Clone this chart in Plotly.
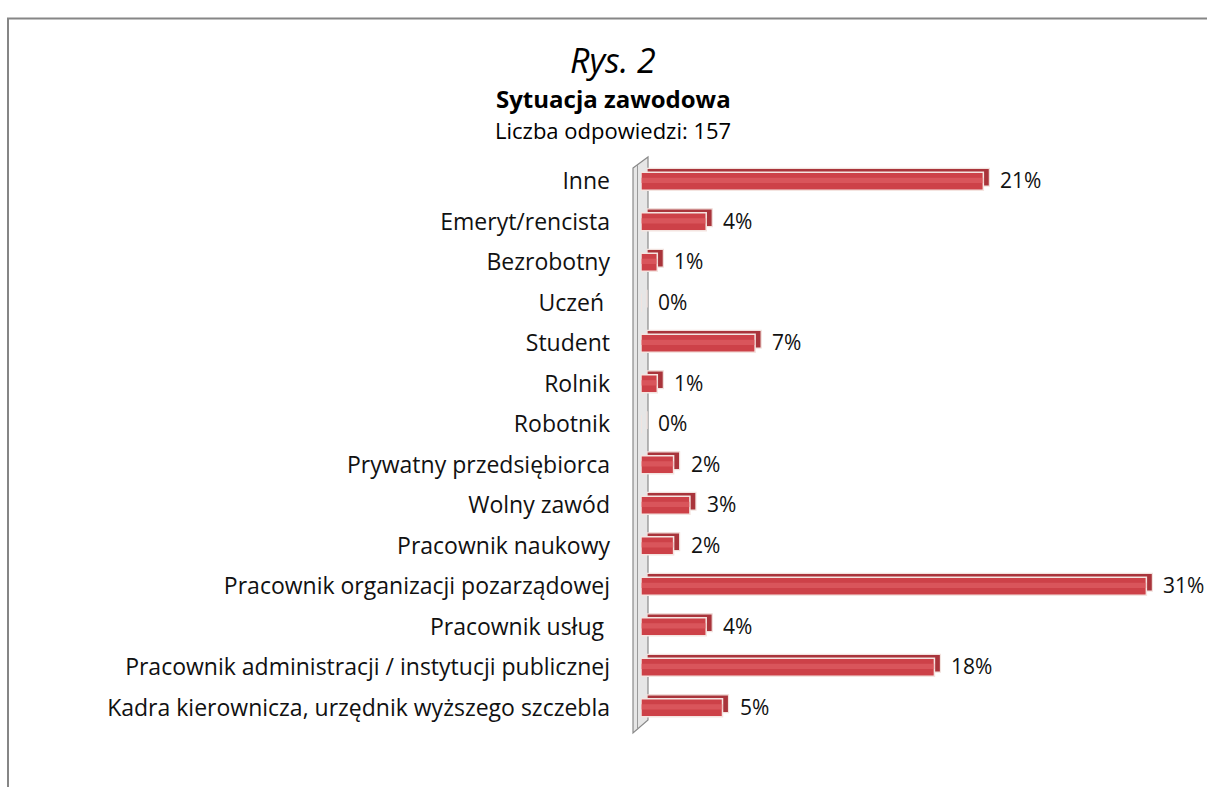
import plotly.graph_objects as go

# Survey: occupational situation of respondents (157 answers)
categories = [
    "Inne",
    "Emeryt/rencista",
    "Bezrobotny",
    "Uczeń\u00a0",
    "Student",
    "Rolnik",
    "Robotnik",
    "Prywatny przedsiębiorca",
    "Wolny zawód",
    "Pracownik naukowy",
    "Pracownik organizacji pozarządowej",
    "Pracownik usług\u00a0",
    "Pracownik administracji / instytucji publicznej",
    "Kadra kierownicza, urzędnik wyższego szczebla",
]
shares = [21, 4, 1, 0, 7, 1, 0, 2, 3, 2, 31, 4, 18, 5]
value_labels = [f"{v}%" for v in shares]

title_fig = "Rys. 2"
title_main = "Sytuacja zawodowa"
title_sub = "Liczba odpowiedzi: 157"

FONT = "Open Sans"
W, H = 1207, 787
L, R, T, B = 641, 0, 161, 59
X_MAX = 34.72
BAR_W = 0.44
DEPTH_X = 0.37   # extrusion to the right, in % units
DEPTH_Y = 0.10   # extrusion upwards, in category units

fig = go.Figure()

# back face of the extruded bars (gives the top strip and end cap)
fig.add_trace(go.Bar(
    y=categories, x=shares, base=DEPTH_X, orientation="h",
    width=BAR_W, offset=-BAR_W / 2 - DEPTH_Y,
    marker=dict(color="#a9343b", line=dict(color="#f2e2de", width=1.2)),
    hoverinfo="skip", showlegend=False,
))
# front face
fig.add_trace(go.Bar(
    y=categories, x=shares, base=0, orientation="h",
    width=BAR_W, offset=-BAR_W / 2,
    marker=dict(color="#cd4148", line=dict(color="#f4e4e0", width=1.5)),
    showlegend=False,
))
# soft highlight along the middle of each front face
fig.add_trace(go.Bar(
    y=categories, x=shares, base=0, orientation="h",
    width=BAR_W * 0.3, offset=-BAR_W * 0.2,
    marker=dict(color="rgba(232,110,116,0.45)", line=dict(width=0)),
    hoverinfo="skip", showlegend=False,
))

# value labels next to each bar
for cat, v, lab in zip(categories, shares, value_labels):
    fig.add_annotation(
        x=v, y=cat, xref="x", yref="y", text=lab, showarrow=False,
        xanchor="left", xshift=15, yshift=1,
        font=dict(family=FONT, size=21, color="#111111"),
    )


def px_x(p):
    return (p - L) / (W - L - R)


def px_y(p):
    return (H - B - p) / (H - T - B)


# 3D side wall of the category axis
wall = [(633, 168), (648, 157), (648, 720), (633, 733)]
path = "M " + " L ".join(f"{px_x(a):.5f},{px_y(b):.5f}" for a, b in wall) + " Z"
fig.add_shape(type="path", path=path, xref="paper", yref="paper",
              fillcolor="#e6e6e6", line=dict(color="#8a8a8a", width=1.2), layer="below")
fig.add_shape(type="line", xref="paper", yref="paper",
              x0=px_x(637.5), y0=px_y(165), x1=px_x(637.5), y1=px_y(730),
              line=dict(color="#9a9a9a", width=1), layer="below")

# frame around the figure
fig.add_shape(type="rect", xref="paper", yref="paper",
              x0=px_x(8), y0=px_y(800), x1=px_x(1230), y1=px_y(18.5),
              line=dict(color="#868686", width=2), fillcolor="rgba(0,0,0,0)")

# titles
fig.add_annotation(x=px_x(613), y=px_y(60), xref="paper", yref="paper", text=f"<i>{title_fig}</i>",
                   showarrow=False, xanchor="center", yanchor="middle",
                   font=dict(family=FONT, size=34, color="#000000"))
fig.add_annotation(x=px_x(613), y=px_y(99), xref="paper", yref="paper", text=f"<b>{title_main}</b>",
                   showarrow=False, xanchor="center", yanchor="middle",
                   font=dict(family=FONT, size=24, color="#000000"))
fig.add_annotation(x=px_x(613), y=px_y(130), xref="paper", yref="paper", text=title_sub,
                   showarrow=False, xanchor="center", yanchor="middle",
                   font=dict(family=FONT, size=22, color="#000000"))

fig.update_layout(
    width=W, height=H,
    margin=dict(l=L, r=R, t=T, b=B, autoexpand=False),
    paper_bgcolor="white", plot_bgcolor="white",
    barmode="overlay",
    xaxis=dict(range=[0, X_MAX], visible=False, fixedrange=True),
    yaxis=dict(
        type="category", categoryorder="array", categoryarray=categories,
        range=[13.5, -0.5], showgrid=False, zeroline=False, showline=False,
        ticks="", ticklabelstandoff=30, fixedrange=True,
        tickfont=dict(family=FONT, size=23, color="#111111"),
    ),
    font=dict(family=FONT),
)

fig.write_html("out.html", config={"displayModeBar": False})
